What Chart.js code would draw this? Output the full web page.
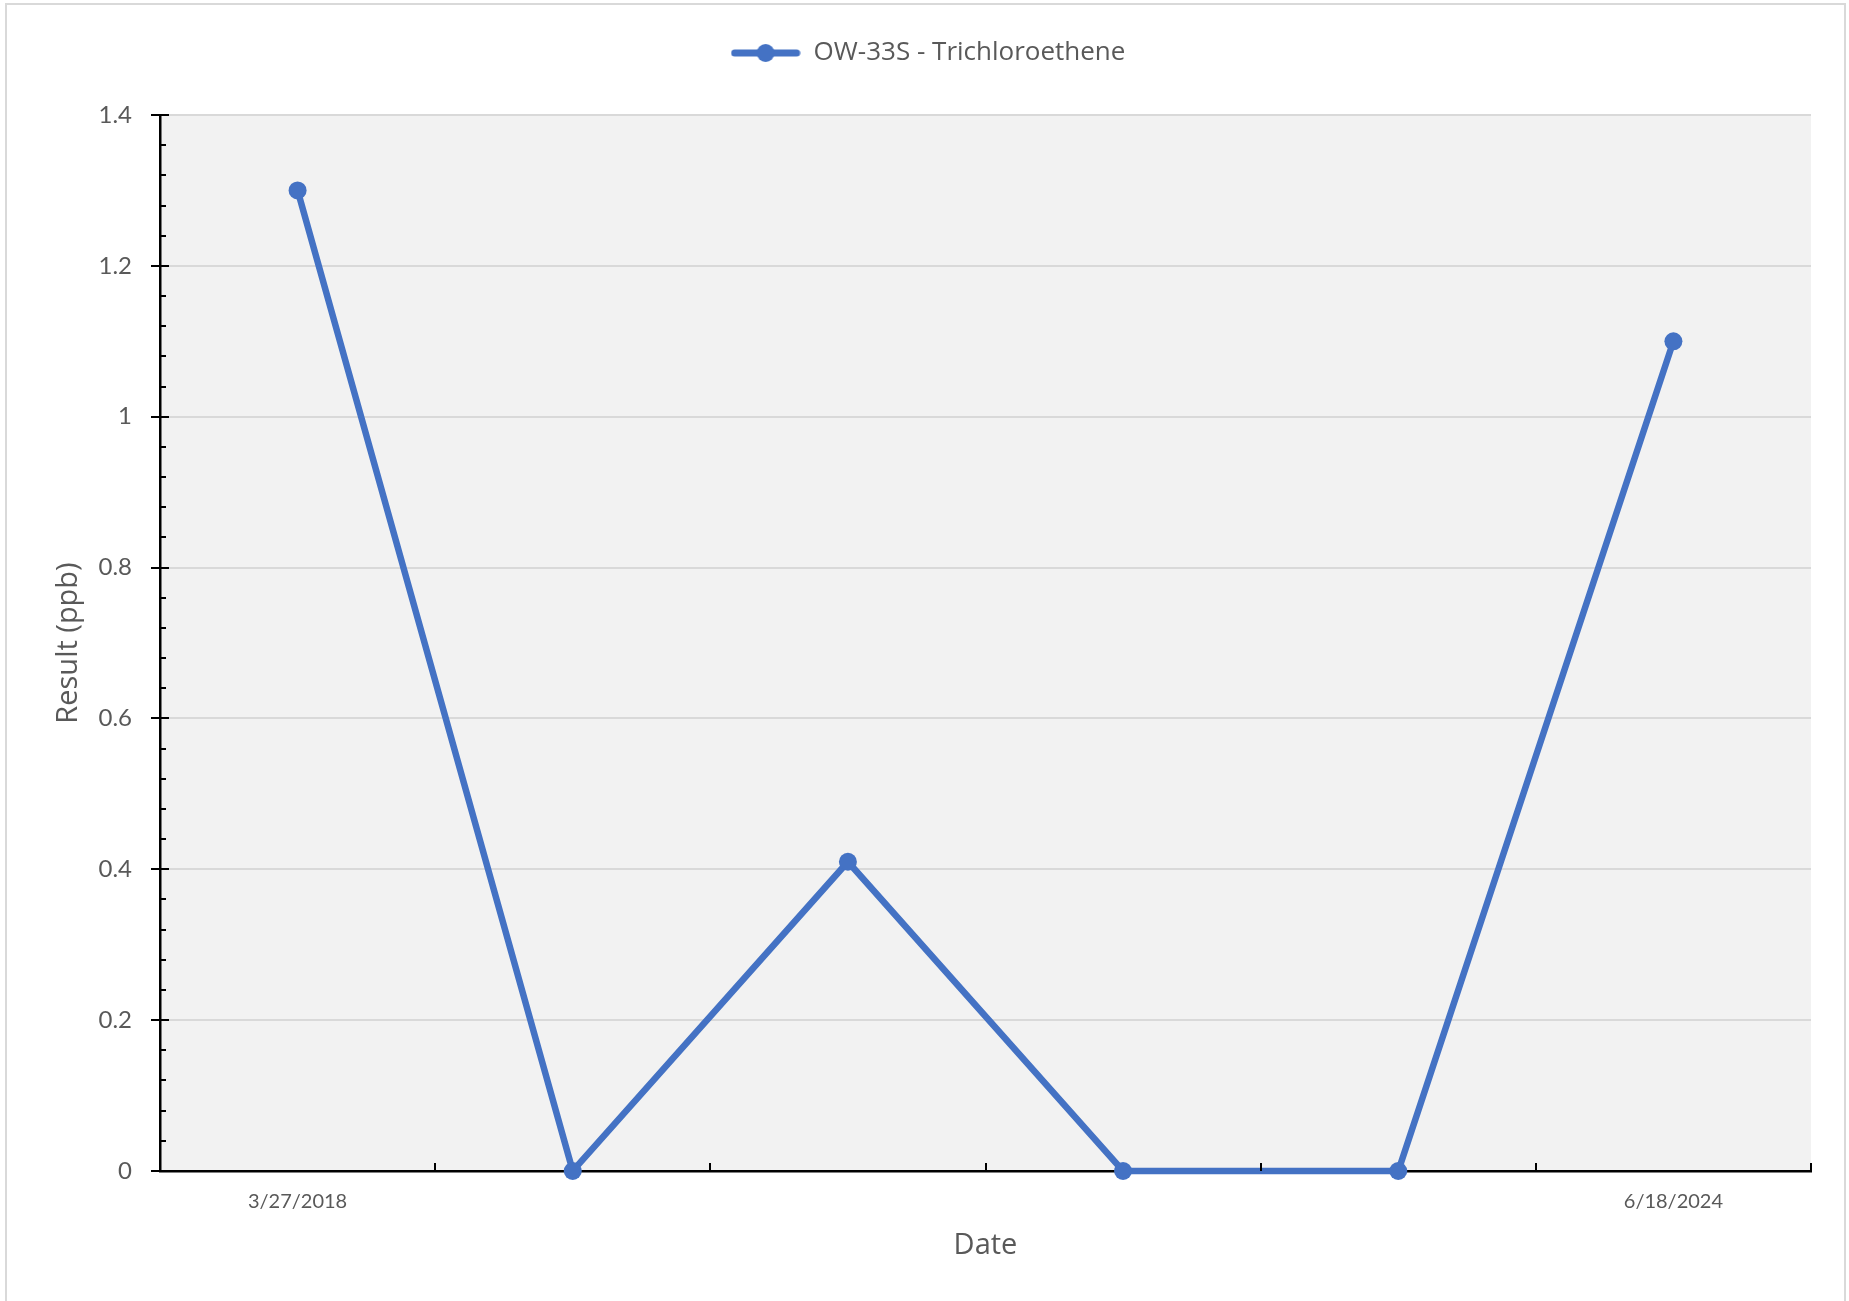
<!DOCTYPE html>
<html>
<head>
<meta charset="utf-8">
<script src="https://cdn.jsdelivr.net/npm/chart.js@4.4.1/dist/chart.umd.min.js"></script>
<style>
  html, body { margin: 0; padding: 0; background: #ffffff; overflow: hidden; }
  #wrap { position: relative; width: 1849px; height: 1301px; }
  #frame { position: absolute; left: 5px; top: 3px; width: 1841px; height: 1320px; box-sizing: border-box; border: 2px solid #d9d9d9; pointer-events: none; }
  canvas { position: absolute; left: 0; top: 0; }
</style>
</head>
<body>
<div id="wrap">
  <canvas id="c" width="1849" height="1301"></canvas>
  <div id="frame"></div>
</div>
<script>
// ---- data ----
const categories = ['3/27/2018', '', '', '', '', '6/18/2024'];
const seriesLabel = 'OW-33S - Trichloroethene';
const resultValues = [1.3, 0, 0.41, 0, 0, 1.1];
const yTickValues = [0, 0.2, 0.4, 0.6, 0.8, 1, 1.2, 1.4];
const yMinorStep = 0.04;

const FONT = 'Lato, "Open Sans", sans-serif';
const FONT2 = '"Open Sans", Lato, sans-serif';
const TEXT = '#595959';
const BLUE = '#4472C4';

// legend icon: line with a circle marker
const legendIcon = document.createElement('canvas');
legendIcon.width = 70; legendIcon.height = 22;
(function () {
  const g = legendIcon.getContext('2d');
  g.strokeStyle = BLUE; g.lineWidth = 7; g.lineCap = 'round';
  g.beginPath(); g.moveTo(4, 11); g.lineTo(66, 11); g.stroke();
  g.fillStyle = BLUE; g.beginPath(); g.arc(35, 11, 9, 0, Math.PI * 2); g.fill();
})();

const plotBg = {
  id: 'plotBg',
  beforeDraw(chart) {
    const { ctx, chartArea: a } = chart;
    ctx.save(); ctx.fillStyle = '#f2f2f2';
    ctx.fillRect(a.left, a.top, a.right - a.left, a.bottom - a.top);
    ctx.restore();
  }
};

const fixLegend = {
  id: 'fixLegend',
  beforeLayout(chart) {
    const lg = chart.legend;
    if (lg && !lg._patched) {
      const f = lg.fit;
      lg.fit = function () { f.call(this); this.height = 115; };
      lg._patched = true;
    }
  }
};

const tickMarks = {
  id: 'tickMarks',
  afterDraw(chart) {
    const { ctx, chartArea: a, scales: { x, y } } = chart;
    ctx.save();
    ctx.strokeStyle = '#000000';
    ctx.lineWidth = 2;
    const n = Math.round((y.max - y.min) / yMinorStep);
    for (let i = 0; i <= n; i++) {
      const v = y.min + i * yMinorStep;
      const py = Math.round(y.getPixelForValue(v));
      const major = (i % 5 === 0);
      ctx.beginPath();
      if (major) { ctx.moveTo(a.left - 9, py); ctx.lineTo(a.left + 9, py); }
      else { ctx.moveTo(a.left, py); ctx.lineTo(a.left + 6, py); }
      ctx.stroke();
    }
    const cnt = categories.length;
    for (let i = 0; i <= cnt; i++) {
      let px;
      if (i === 0) px = a.left;
      else if (i === cnt) px = a.right;
      else px = (x.getPixelForValue(i - 1) + x.getPixelForValue(i)) / 2;
      px = Math.round(px);
      ctx.beginPath(); ctx.moveTo(px, a.bottom); ctx.lineTo(px, a.bottom - 8); ctx.stroke();
    }
    ctx.restore();
  }
};

new Chart(document.getElementById('c'), {
  type: 'line',
  data: {
    labels: categories,
    datasets: [{
      label: seriesLabel,
      data: resultValues,
      borderColor: BLUE,
      backgroundColor: BLUE,
      borderWidth: 6.5,
      pointRadius: 9,
      pointHoverRadius: 9,
      pointBackgroundColor: BLUE,
      pointBorderWidth: 0,
      tension: 0,
      clip: false
    }]
  },
  options: {
    responsive: false,
    devicePixelRatio: 1,
    animation: false,
    events: [],
    layout: { padding: { left: 45, right: 38, top: 0, bottom: 0 } },
    plugins: {
      tooltip: { enabled: false },
      legend: {
        position: 'top',
        align: 'center',
        labels: {
          usePointStyle: true,
          pointStyleWidth: 70,
          padding: 40,
          color: TEXT,
          font: { family: FONT2, size: 26 },
          generateLabels(chart) {
            const items = Chart.defaults.plugins.legend.labels.generateLabels(chart);
            items.forEach(it => { it.pointStyle = legendIcon; it.fontColor = TEXT; });
            return items;
          }
        }
      }
    },
    scales: {
      x: {
        type: 'category',
        offset: true,
        grid: { display: true, color: 'rgba(0,0,0,0)', drawTicks: false, drawOnChartArea: false, offset: true },
        border: { display: true, color: '#000000', width: 2.5 },
        ticks: {
          autoSkip: false, maxRotation: 0, minRotation: 0,
          padding: 19, color: TEXT, font: { family: FONT, size: 20 }
        },
        title: { display: true, text: 'Date', color: TEXT, font: { family: FONT2, size: 29 }, padding: { top: 0, bottom: 38 } },
        afterFit(s) { s.height = 130; }
      },
      y: {
        min: 0, max: 1.4,
        afterBuildTicks(s) { s.ticks = yTickValues.map(v => ({ value: v })); },
        grid: { color: '#d9d9d9', lineWidth: 2, drawTicks: false },
        border: { display: true, color: '#000000', width: 2.5 },
        ticks: {
          padding: 28, color: TEXT, font: { family: FONT, size: 24 },
          callback: (v) => String(Number(Number(v).toFixed(1)))
        },
        title: { display: true, text: 'Result (ppb)', color: TEXT, font: { family: FONT2, size: 29 }, padding: { top: 6, bottom: 0 } },
        afterFit(s) { s.width = 115; }
      }
    }
  },
  plugins: [plotBg, fixLegend, tickMarks]
});
</script>
</body>
</html>
